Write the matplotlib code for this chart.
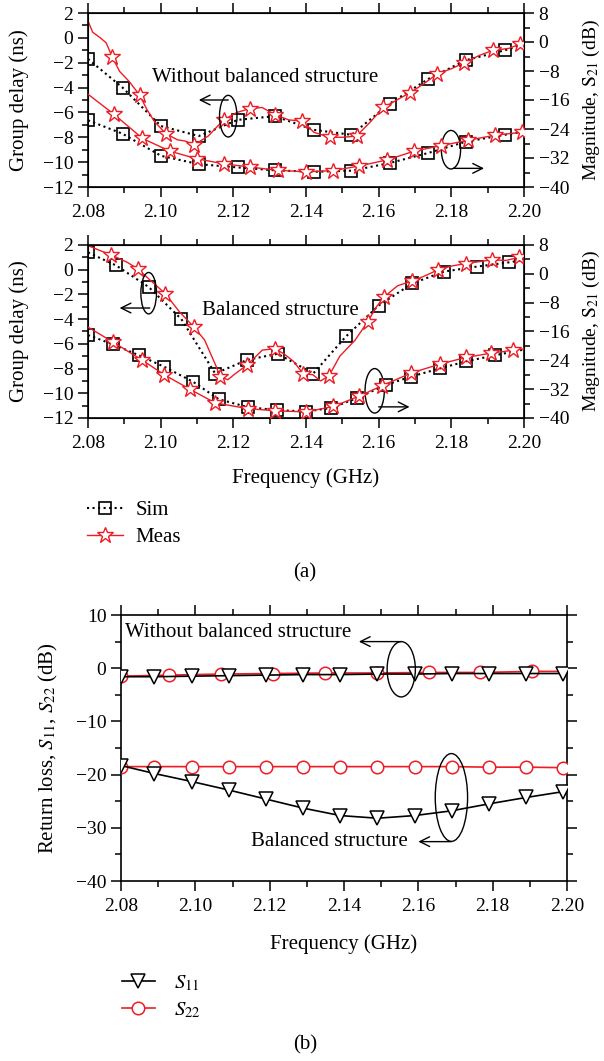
import numpy as np
import matplotlib
matplotlib.use("Agg")
from matplotlib import pyplot as plt
from matplotlib.lines import Line2D
from matplotlib.patches import Ellipse
from matplotlib.ticker import MultipleLocator

plt.rcParams['font.family'] = ['Liberation Serif', 'DejaVu Serif']
plt.rcParams['mathtext.fontset'] = 'stix'

RED = '#ee1c25'

# ---- (a) upper panel: without balanced structure ----
gd1_meas_f = [2.0800, 2.0813, 2.0834, 2.0850, 2.0866, 2.0887, 2.0913, 2.0942, 2.0961, 2.0982,
              2.1014, 2.1046, 2.1067, 2.1093, 2.1131, 2.1173, 2.1210, 2.1245, 2.1279, 2.1316,
              2.1353, 2.1390, 2.1422, 2.1465, 2.1502, 2.1539, 2.1576, 2.1613, 2.1650, 2.1687,
              2.1724, 2.1761, 2.1799, 2.1836, 2.1878, 2.1915, 2.1958, 2.1989, 2.2000]
gd1_meas = [1.35, 0.45, 0.0, -0.4, -1.5, -2.7, -3.5, -4.6, -5.7, -6.7,
            -7.7, -8.2, -8.3, -8.6, -7.9, -6.6, -6.0, -5.7, -5.6, -6.2,
            -6.6, -6.7, -7.6, -8.0, -8.0, -7.9, -6.8, -5.6, -5.0, -4.4,
            -3.7, -2.9, -2.5, -2.0, -1.4, -1.0, -0.85, -0.5, -0.35]
gd1_meas_stars = [4, 7, 10, 13, 15, 17, 19, 21, 23, 25, 27, 29, 31, 33, 35, 37]

gd1_sim_f = [2.0800, 2.0895, 2.1001, 2.1105, 2.1212, 2.1314, 2.1421, 2.1525, 2.1630, 2.1737,
             2.1840, 2.1947, 2.2000]
gd1_sim = [-1.7, -4.0, -7.1, -7.9, -6.6, -6.3, -7.4, -7.8, -5.3, -3.3, -1.8, -1.0, -0.55]

s21_1_meas_f = [2.0800, 2.0871, 2.0950, 2.1025, 2.1099, 2.1173, 2.1247, 2.1322, 2.1399, 2.1473,
                2.1547, 2.1624, 2.1698, 2.1772, 2.1846, 2.1921, 2.1995, 2.2000]
s21_1_meas = [-14.4, -19.9, -26.6, -30.1, -32.2, -33.6, -34.5, -35.4, -35.8, -35.5,
              -34.2, -32.5, -30.1, -28.6, -27.1, -25.7, -24.9, -24.6]

s21_1_sim_f = [2.0800, 2.0895, 2.1001, 2.1105, 2.1212, 2.1314, 2.1421, 2.1525, 2.1630, 2.1737,
               2.1840, 2.1947, 2.2000]
s21_1_sim = [-21.6, -25.3, -31.4, -33.7, -34.6, -35.4, -35.8, -35.5, -33.4, -30.6, -27.5, -25.6, -24.7]

# ---- (a) lower panel: balanced structure ----
gd2_meas_f = [2.0800, 2.0834, 2.0864, 2.0908, 2.0937, 2.0972, 2.1013, 2.1052, 2.1091, 2.1121,
              2.1153, 2.1164, 2.1185, 2.1206, 2.1238, 2.1280, 2.1314, 2.1339, 2.1365, 2.1392,
              2.1419, 2.1440, 2.1463, 2.1493, 2.1535, 2.1570, 2.1594, 2.1615, 2.1652, 2.1693,
              2.1727, 2.1764, 2.1801, 2.1840, 2.1876, 2.1913, 2.1950, 2.1987, 2.2000]
gd2_meas = [1.95, 1.54, 1.2, 0.6, 0.07, -0.87, -1.94, -3.42, -4.62, -5.69,
            -7.84, -8.7, -8.9, -8.4, -7.7, -6.5, -6.4, -6.8, -7.4, -8.4,
            -8.5, -9.0, -8.6, -7.0, -5.7, -4.2, -3.0, -2.2, -1.3, -0.9,
            -0.5, 0.0, 0.3, 0.5, 0.65, 0.8, 0.75, 1.0, 1.15]
gd2_meas_stars = [2, 4, 6, 8, 11, 14, 16, 19, 22, 25, 27, 29, 31, 33, 35, 37]

gd2_sim_f = [2.0800, 2.0877, 2.0967, 2.1057, 2.1150, 2.1238, 2.1322, 2.1420, 2.1510, 2.1600,
             2.1693, 2.1780, 2.1870, 2.1960, 2.2000]
gd2_sim = [1.4, 0.35, -1.4, -4.0, -8.4, -7.3, -6.8, -8.4, -5.4, -2.9,
           -1.1, -0.15, 0.25, 0.6, 0.8]

s21_2_meas_f = [2.0800, 2.0870, 2.0950, 2.1010, 2.1080, 2.1150, 2.1240, 2.1315, 2.1400, 2.1475,
                2.1545, 2.1610, 2.1690, 2.1770, 2.1840, 2.1910, 2.1970, 2.2000]
s21_2_meas = [-14.8, -19.0, -24.0, -28.0, -32.0, -35.8, -37.4, -38.0, -38.3, -36.8,
              -34.0, -31.0, -27.5, -25.0, -23.2, -22.0, -21.2, -20.8]

s21_2_sim_f = [2.0800, 2.0870, 2.0940, 2.1010, 2.1090, 2.1160, 2.1240, 2.1320, 2.1400, 2.1470,
               2.1540, 2.1620, 2.1690, 2.1770, 2.1840, 2.1920, 2.2000]
s21_2_sim = [-17.0, -19.6, -22.6, -25.8, -30.0, -34.8, -37.0, -37.8, -38.2, -37.2,
             -34.5, -30.8, -28.5, -26.2, -24.3, -22.6, -21.0]

# ---- (b) return loss ----
s11_f = [2.0800, 2.0890, 2.0990, 2.1090, 2.1190, 2.1290, 2.1390, 2.1490, 2.1590, 2.1690,
         2.1790, 2.1890, 2.1990]
s11_unbal = [-1.6, -1.6, -1.5, -1.4, -1.3, -1.2, -1.2, -1.1, -1.1, -1.0, -1.0, -1.0, -1.0]
s11_bal = [-18.3, -19.8, -21.3, -22.9, -24.6, -26.3, -27.7, -28.2, -27.7, -26.8,
           -25.5, -24.3, -23.2]

s22_unbal_f = [2.0800, 2.0929, 2.1069, 2.1209, 2.1348, 2.1489, 2.1628, 2.1767, 2.1906, 2.2000]
s22_unbal = [-1.5, -1.3, -1.1, -1.0, -0.9, -0.9, -0.8, -0.8, -0.6, -0.6]
s22_bal_f = [2.0800, 2.0890, 2.0990, 2.1090, 2.1190, 2.1290, 2.1390, 2.1490, 2.1590, 2.1690,
             2.1790, 2.1890, 2.1990]
s22_bal = [-18.5, -18.5, -18.5, -18.5, -18.5, -18.5, -18.5, -18.5, -18.5, -18.5,
           -18.6, -18.6, -18.7]

freq_ticks = [2.08, 2.10, 2.12, 2.14, 2.16, 2.18, 2.20]

W, H = 604, 1061
fig = plt.figure(figsize=(W / 100, H / 100), dpi=100)


def box(l, t, r, b):
    return [l / W, 1 - b / H, (r - l) / W, (b - t) / H]


def style_freq_axis(ax):
    ax.set_xlim(2.08, 2.20)
    ax.set_xticks(freq_ticks)
    ax.set_xticklabels(['%.2f' % v for v in freq_ticks])
    ax.xaxis.set_minor_locator(MultipleLocator(0.01))
    ax.tick_params(axis='x', which='major', direction='out', length=7, width=1.1,
                   labelsize=14, pad=5, top=True)
    ax.tick_params(axis='x', which='minor', direction='out', length=4, width=1.1, top=True)
    ax.tick_params(axis='y', which='major', direction='out', length=7, width=1.1, labelsize=14)
    ax.tick_params(axis='y', which='minor', direction='out', length=4, width=1.1)
    for s in ax.spines.values():
        s.set_linewidth(1.2)


def delay_panel(ax, gd_f, gd, gd_stars, gsim_f, gsim, m_f, m, s_f, s):
    style_freq_axis(ax)
    ax.set_ylim(-12, 2)
    ax.set_yticks(np.arange(-12, 3, 2))
    ax.yaxis.set_minor_locator(MultipleLocator(1))
    ax.set_ylabel('Group delay (ns)', fontsize=15)
    ax.yaxis.set_label_coords(-0.135, 0.5)

    ax.plot(gsim_f, gsim, ls=':', color='black', lw=1.5, marker='s', ms=8,
            mfc='none', mec='black', mew=1.2, markevery=list(range(len(gsim) - 1)), zorder=3)
    ax.plot(gd_f, gd, ls='-', color=RED, lw=1.0, marker='*', ms=12,
            mfc='white', mec=RED, mew=1.0, markevery=gd_stars, zorder=4)

    axr = ax.twinx()
    axr.set_ylim(-40, 8)
    axr.set_yticks(np.arange(-40, 9, 8))
    axr.yaxis.set_minor_locator(MultipleLocator(4))
    axr.tick_params(axis='y', which='major', direction='out', length=7, width=1.1, labelsize=14)
    axr.tick_params(axis='y', which='minor', direction='out', length=4, width=1.1)
    axr.set_ylabel(r'Magnitude, $\mathrm{S}_{21}$ (dB)', fontsize=14)
    axr.yaxis.set_label_coords(1.13, 0.5)
    axr.plot(s_f, s, ls=':', color='black', lw=1.5, marker='s', ms=8,
             mfc='none', mec='black', mew=1.2, markevery=list(range(len(s) - 1)), zorder=3)
    axr.plot(m_f, m, ls='-', color=RED, lw=1.0, marker='*', ms=12,
             mfc='white', mec=RED, mew=1.0, markevery=list(range(1, len(m) - 1)), zorder=4)
    return axr


def ring(ax, xy, w, h, tail, head):
    ax.add_patch(Ellipse(xy, w, h, fill=False, ec='black', lw=1.0, zorder=5))
    ax.annotate('', xy=head, xytext=tail,
                arrowprops=dict(arrowstyle='->,head_length=0.7,head_width=0.35',
                                lw=1.0, color='black', shrinkA=0, shrinkB=0), zorder=5)


# upper panel
ax1 = fig.add_axes(box(88, 13, 524, 187))
ax1r = delay_panel(ax1, gd1_meas_f, gd1_meas, gd1_meas_stars, gd1_sim_f, gd1_sim,
                   s21_1_meas_f, s21_1_meas, s21_1_sim_f, s21_1_sim)
ax1.text(2.0975, -3.2, 'Without balanced structure', fontsize=15, va='center', ha='left')
ring(ax1, (2.1186, -6.3), 0.0048, 3.35, (2.1186, -5.0), (2.1105, -5.0))
ring(ax1, (2.1799, -9.0), 0.0053, 3.1, (2.1806, -10.5), (2.1890, -10.5))

# lower panel
ax2 = fig.add_axes(box(88, 245, 524, 418))
ax2r = delay_panel(ax2, gd2_meas_f, gd2_meas, gd2_meas_stars, gd2_sim_f, gd2_sim,
                   s21_2_meas_f, s21_2_meas, s21_2_sim_f, s21_2_sim)
ax2.set_xlabel('Frequency (GHz)', fontsize=15, labelpad=12)
ax2.text(2.1115, -3.3, 'Balanced structure', fontsize=15, va='center', ha='left')
ring(ax2, (2.0967, -1.9), 0.0043, 3.35, (2.0970, -3.1), (2.0887, -3.1))
ring(ax2, (2.1589, -9.8), 0.0053, 3.6, (2.1600, -11.1), (2.1685, -11.1))

leg_a = [Line2D([], [], ls=':', color='black', lw=1.5, marker='s', ms=8, mfc='none',
                mec='black', mew=1.2),
         Line2D([], [], ls='-', color=RED, lw=1.0, marker='*', ms=12, mfc='white',
                mec=RED, mew=1.0)]
fig.legend(leg_a, ['Sim', 'Meas'], loc='upper left', bbox_to_anchor=(72 / W, 1 - 486 / H),
           frameon=False, fontsize=15, handlelength=1.75, handletextpad=0.6, labelspacing=0.35,
           borderpad=0.2)
fig.text(305 / W, 1 - 573 / H, '(a)', fontsize=15, ha='center', va='center')

# (b) return loss
ax3 = fig.add_axes(box(121, 615, 567, 881))
style_freq_axis(ax3)
ax3.set_ylim(-40, 10)
ax3.set_yticks(np.arange(-40, 11, 10))
ax3.yaxis.set_minor_locator(MultipleLocator(5))
ax3.tick_params(axis='y', which='both', right=True)
ax3.set_ylabel(r'Return loss, $S_{11}$, $S_{22}$ (dB)', fontsize=15)
ax3.yaxis.set_label_coords(-0.137, 0.5)
ax3.set_xlabel('Frequency (GHz)', fontsize=15, labelpad=14)

ax3.plot(s22_unbal_f, s22_unbal, '-', color=RED, lw=1.2, marker='o', ms=9, mfc='white',
         mec=RED, mew=1.1, markevery=list(range(len(s22_unbal) - 1)), zorder=3)
ax3.plot(s22_bal_f, s22_bal, '-', color=RED, lw=1.2, marker='o', ms=9, mfc='white',
         mec=RED, mew=1.1, zorder=3)
ax3.plot(s11_f, s11_unbal, '-', color='black', lw=1.2, marker='v', ms=10, mfc='white',
         mec='black', mew=1.1, zorder=4)
ax3.plot(s11_f, s11_bal, '-', color='black', lw=1.2, marker='v', ms=10, mfc='white',
         mec='black', mew=1.1, zorder=4)

ax3.text(2.0810, 6.7, 'Without balanced structure', fontsize=15, va='center', ha='left')
ring(ax3, (2.1554, -0.2), 0.0076, 10.4, (2.1554, 5.0), (2.1440, 5.0))
ax3.text(2.1150, -32.6, 'Balanced structure', fontsize=15, va='center', ha='left')
ring(ax3, (2.1689, -24.3), 0.0087, 16.5, (2.1689, -32.6), (2.1600, -32.6))

leg_b = [Line2D([], [], ls='-', color='black', lw=1.2, marker='v', ms=10, mfc='white',
                mec='black', mew=1.1),
         Line2D([], [], ls='-', color=RED, lw=1.2, marker='o', ms=9, mfc='white',
                mec=RED, mew=1.1)]
fig.legend(leg_b, [r'$S_{11}$', r'$S_{22}$'], loc='upper left',
           bbox_to_anchor=(107 / W, 1 - 959 / H), frameon=False, fontsize=15,
           handlelength=1.6, handletextpad=0.9, labelspacing=0.35, borderpad=0.2)
fig.text(305 / W, 1 - 1045 / H, '(b)', fontsize=15, ha='center', va='center')

fig.savefig('out.png', dpi=100)
